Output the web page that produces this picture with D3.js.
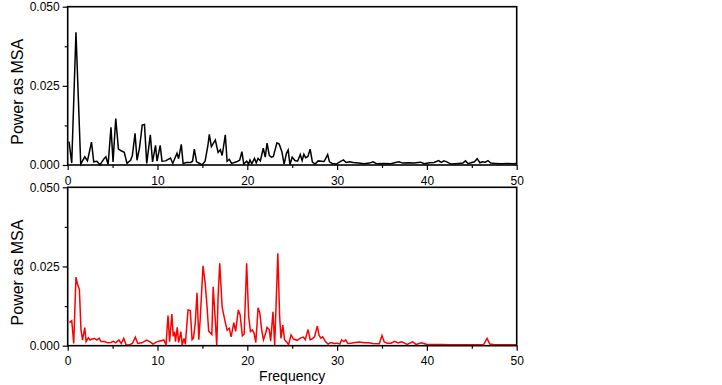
<!DOCTYPE html>
<html>
<head>
<meta charset="utf-8">
<script src="https://cdn.jsdelivr.net/npm/d3@7"></script>
<style>
  body { margin: 0; background: #fff; }
  text { font-family: Arial, "Liberation Sans", sans-serif; }
</style>
</head>
<body>
<div id="chart"></div>
<script>
// top spectrum (black)
const topFreq = [0.15,0.45,0.92,1.45,1.9,2.2,2.65,2.9,3.25,3.6,4.05,4.25,4.5,4.82,5.05,5.35,5.65,5.95,6.3,6.6,
  7.0,7.2,7.5,7.72,8.0,8.3,8.55,8.8,9.2,9.45,9.78,9.95,10.3,10.5,10.9,11.45,11.7,12.17,12.35,12.65,
  12.85,13.2,13.7,13.9,14.1,14.35,14.75,14.95,15.3,15.62,15.77,16.0,16.44,16.75,17.0,17.2,17.55,17.75,18.0,18.25,
  18.8,19.15,19.4,19.6,19.93,20.15,20.3,20.5,20.8,21.0,21.2,21.45,21.78,22.0,22.2,22.45,22.7,22.9,23.3,23.55,
  23.85,24.1,24.35,24.55,24.75,25.0,25.3,25.6,25.9,26.1,26.3,26.5,26.75,27.0,27.25,27.55,27.9,28.25,28.55,28.95,
  29.15,29.45,29.9,30.3,30.7,31.0,31.4,31.8,32.4,33.0,33.6,34.0,34.4,35.2,36.0,36.5,36.9,37.3,38.0,38.6,
  39.0,39.3,39.7,40.3,40.8,41.3,41.6,41.9,42.2,42.7,43.5,44.0,44.3,44.6,45.0,45.3,45.6,45.9,46.2,46.5,
  46.8,47.1,47.6,48.3,49.0,49.6,50.0];
const topPower = [.0074,.0006,.0419,.0003,.0026,.0013,.0072,.0010,.0012,.0001,.0020,.0026,.0002,.0119,.0010,.0147,.0050,.0045,.0040,.0005,
  .0015,.0030,.0100,.0015,.0055,.0126,.0128,.0005,.0095,.0010,.0062,.0012,.0062,.0012,.0013,.0022,.0005,.0037,.0020,.0065,
  .0005,.0008,.0008,.0012,.0050,.0010,.0004,.0000,.0012,.0063,.0097,.0058,.0079,.0040,.0048,.0030,.0095,.0012,.0018,.0005,
  .0010,.0015,.0042,.0003,.0012,.0003,.0016,.0004,.0021,.0007,.0021,.0013,.0053,.0025,.0069,.0030,.0025,.0027,.0070,.0066,
  .0042,.0003,.0036,.0047,.0001,.0025,.0014,.0012,.0033,.0014,.0034,.0023,.0027,.0050,.0009,.0003,.0013,.0012,.0011,.0033,
  .0010,.0005,.0003,.0010,.0016,.0008,.0010,.0008,.0006,.0004,.0006,.0010,.0004,.0005,.0004,.0008,.0010,.0006,.0007,.0006,
  .0008,.0009,.0004,.0007,.0008,.0014,.0008,.0013,.0010,.0003,.0005,.0006,.0013,.0004,.0008,.0010,.0020,.0007,.0010,.0009,
  .0014,.0006,.0005,.0004,.0005,.0004,.0005];

// bottom spectrum (red)
const botFreq = [0.18,0.45,0.67,0.92,1.1,1.3,1.48,1.65,1.9,2.05,2.3,2.5,2.75,3.0,3.25,3.5,3.7,4.1,4.45,4.8,
  5.1,5.35,5.7,5.96,6.24,6.5,6.8,7.2,7.53,7.8,8.25,8.8,9.17,9.5,9.9,10.3,10.7,10.95,11.17,11.35,
  11.6,11.75,11.9,12.0,12.2,12.35,12.6,12.75,12.95,13.1,13.4,13.65,13.85,14.0,14.2,14.4,14.6,14.75,15.07,15.3,
  15.5,15.7,15.9,16.05,16.2,16.4,16.6,16.75,16.93,17.2,17.5,17.75,18.0,18.2,18.5,18.7,19.0,19.2,19.45,19.65,
  19.93,20.15,20.35,20.55,20.75,20.95,21.2,21.4,21.6,21.8,22.05,22.2,22.45,22.6,22.86,23.05,23.2,23.4,23.6,23.75,
  23.95,24.15,24.4,24.6,24.87,25.15,25.55,25.9,26.25,26.45,26.77,27.0,27.2,27.5,27.8,28.0,28.2,28.4,28.7,29.0,
  29.3,29.7,30.0,30.3,30.5,30.75,30.95,31.2,31.5,32.0,32.5,33.0,33.5,34.0,34.7,35.0,35.25,35.6,36.0,36.4,
  36.8,37.2,37.8,38.4,38.8,39.4,40.0,40.8,41.5,42.5,43.5,44.5,45.5,46.3,46.7,47.0,47.6,48.5,49.3,50.0];
const botPower = [.0073,.0079,.0007,.0216,.0193,.0178,.0050,.0018,.0057,.0013,.0025,.0018,.0022,.0023,.0018,.0024,.0013,.0013,.0009,.0010,
  .0014,.0009,.0018,.0007,.0023,.0003,.0002,.0007,.0027,.0007,.0009,.0018,.0012,.0005,.0012,.0015,.0018,.0002,.0095,.0013,
  .0100,.0030,.0044,.0013,.0058,.0010,.0044,.0002,.0023,.0004,.0113,.0111,.0019,.0024,.0070,.0167,.0019,.0082,.0252,.0199,
  .0130,.0046,.0040,.0035,.0186,.0096,.0000,.0156,.0260,.0122,.0080,.0049,.0055,.0028,.0073,.0045,.0113,.0097,.0031,.0037,
  .0260,.0093,.0045,.0050,.0040,.0010,.0120,.0102,.0050,.0019,.0040,.0058,.0050,.0014,.0107,.0002,.0124,.0292,.0093,.0023,
  .0065,.0019,.0011,.0003,.0034,.0021,.0017,.0024,.0027,.0019,.0051,.0019,.0021,.0029,.0062,.0032,.0024,.0028,.0013,.0005,
  .0010,.0007,.0008,.0005,.0018,.0013,.0018,.0007,.0008,.0010,.0012,.0009,.0009,.0007,.0006,.0032,.0012,.0008,.0008,.0014,
  .0009,.0012,.0004,.0012,.0004,.0009,.0004,.0004,.0004,.0003,.0003,.0003,.0003,.0003,.0023,.0005,.0003,.0003,.0003,.0003];

const xTicks = [0, 10, 20, 30, 40, 50];
const yTicks = [0, 0.025, 0.05];
const yLabel = "Power as MSA";
const xLabel = "Frequency";

const width = 722, height = 385;
const left = 67.7, right = 516.7;

const svg = d3.select("#chart").append("svg")
    .attr("width", width)
    .attr("height", height);

const x = d3.scaleLinear().domain([0, 50]).range([left, right]);

const panels = [
    { top: 6.7, bottom: 165, freq: topFreq, power: topPower, color: "#000", labels: true },
    { top: 187.3, bottom: 345.7, freq: botFreq, power: botPower, color: "#ff0000", labels: true }
];

const fmt = d3.format(".3f");

panels.forEach(function(p) {
    const y = d3.scaleLinear().domain([0, 0.05]).range([p.bottom, p.top]);
    const g = svg.append("g");

    const pts = p.freq.map(function(f, i) { return [f, p.power[i]]; });
    const line = d3.line()
        .x(function(d) { return x(d[0]); })
        .y(function(d) { return y(d[1]); });

    g.append("path")
        .datum(pts)
        .attr("fill", "none")
        .attr("stroke", p.color)
        .attr("stroke-width", 1.5)
        .attr("stroke-linejoin", "miter")
        .attr("d", line);

    // frame
    g.append("rect")
        .attr("x", left).attr("y", p.top)
        .attr("width", right - left).attr("height", p.bottom - p.top)
        .attr("fill", "none")
        .attr("stroke", "#000")
        .attr("stroke-width", 1.6);

    // y axis
    const yAxis = d3.axisLeft(y)
        .tickValues(yTicks)
        .tickFormat(fmt)
        .tickSize(5)
        .tickPadding(3);
    const ya = g.append("g").attr("transform", "translate(" + left + ",0)").call(yAxis);
    ya.select(".domain").remove();
    ya.selectAll("line").attr("stroke-width", 1.2);
    ya.selectAll("text").attr("font-size", 12).attr("font-family", "Arial, 'Liberation Sans', sans-serif");

    const yMinor = d3.axisLeft(y).tickValues([0.0125, 0.0375]).tickSize(3).tickFormat("");
    const ym = g.append("g").attr("transform", "translate(" + left + ",0)").call(yMinor);
    ym.select(".domain").remove();
    ym.selectAll("line").attr("stroke-width", 1.2);

    // x axis
    const xAxis = d3.axisBottom(x)
        .tickValues(xTicks)
        .tickSize(5)
        .tickPadding(6);
    const xa = g.append("g").attr("transform", "translate(0," + p.bottom + ")").call(xAxis);
    xa.select(".domain").remove();
    xa.selectAll("line").attr("stroke-width", 1.2);
    xa.selectAll("text").attr("font-size", 12).attr("font-family", "Arial, 'Liberation Sans', sans-serif");

    const xMinor = d3.axisBottom(x).tickValues([5, 15, 25, 35, 45]).tickSize(3).tickFormat("");
    const xm = g.append("g").attr("transform", "translate(0," + p.bottom + ")").call(xMinor);
    xm.select(".domain").remove();
    xm.selectAll("line").attr("stroke-width", 1.2);

    svg.append("text")
        .attr("transform", "translate(23," + ((p.top + p.bottom) / 2 + 6) + ") rotate(-90)")
        .attr("text-anchor", "middle")
        .attr("font-size", 16)
        .text(yLabel);
});

svg.append("text")
    .attr("x", (left + right) / 2)
    .attr("y", 381)
    .attr("text-anchor", "middle")
    .attr("font-size", 14)
    .text(xLabel);
</script>
</body>
</html>
